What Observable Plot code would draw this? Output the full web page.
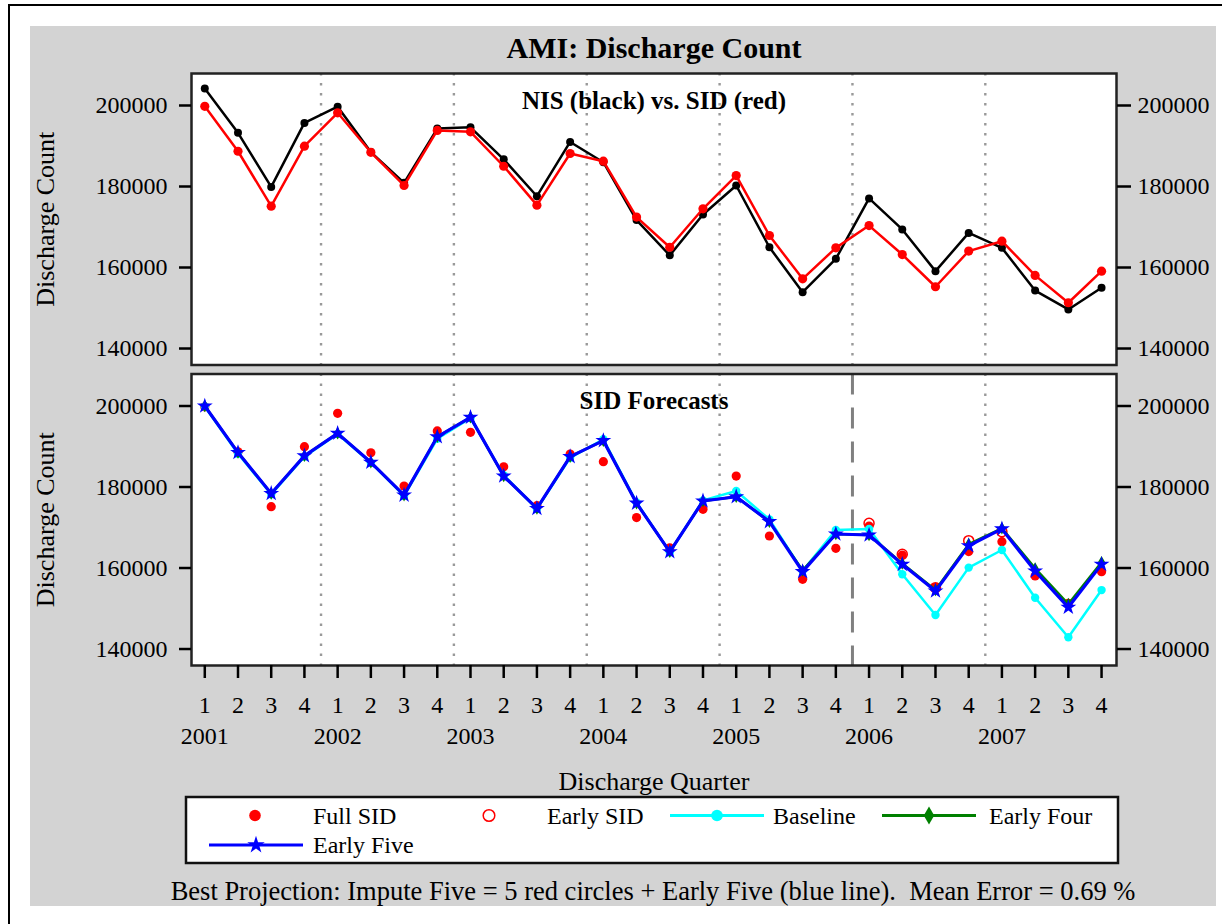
<!DOCTYPE html>
<html><head><meta charset="utf-8">
<script src="https://cdn.jsdelivr.net/npm/d3@7"></script>
<script src="https://cdn.jsdelivr.net/npm/@observablehq/plot@0.6"></script>
<style>
html,body{margin:0;padding:0;background:#fff;overflow:hidden;}
#wrap{position:relative;width:1222px;height:924px;overflow:hidden;font-family:"Liberation Serif","Times New Roman",serif;}
#border{position:absolute;left:8px;top:4px;width:1240px;height:960px;border:2px solid #000;box-sizing:border-box;}
#bg{position:absolute;left:30px;top:26px;width:1186px;height:880px;background:#d3d3d3;}
#chart{position:absolute;left:0;top:0;}
#legend{position:absolute;left:0;top:0;}
</style></head><body>
<div id="wrap"><div id="border"></div><div id="bg"></div><div id="chart"></div><svg id="legend" width="1222" height="924"></svg></div>
<script>
// ---------- data ----------
const quarterLabels = ["1","2","3","4","1","2","3","4","1","2","3","4","1","2","3","4","1","2","3","4","1","2","3","4","1","2","3","4"];
const yearLabels = ["2001","2002","2003","2004","2005","2006","2007"];
const nis       = [204200,193250,179900,195700,199700,188500,180900,194300,194600,186700,177600,191000,186000,171700,163000,173100,180250,165000,153900,162150,177050,169400,159100,168550,164850,154300,149650,155000];
const sidFull   = [199800,188700,175150,189950,198200,188450,180250,193850,193500,185000,175400,188150,186250,172450,165000,174500,182700,167900,157200,164850,170350,163200,155250,164050,166500,158050,151300,159100];
const earlySidQ = [20,21,22,23,24];
const earlySid  = [171050,163400,155150,166750,168950];
const baseline  = [199900,188200,178200,187500,193100,186000,177800,191900,197000,182900,174600,187200,191800,176200,163900,176700,179000,172000,159300,169400,169650,158450,148400,160100,164450,152650,142900,154550];
const earlyFour = [200000,188500,178400,187700,193250,186100,178000,192400,197200,182700,174700,187500,191450,176000,164000,176550,177600,171450,159400,168400,168150,161100,154600,165900,169800,159900,151100,161400];
const earlyFive = [200000,188500,178400,187700,193250,186100,178000,192400,197200,182700,174700,187500,191450,176000,164000,176550,177600,171450,159100,168400,168150,160900,154300,165500,169650,159250,150300,160900];
const yTicks = [140000,160000,180000,200000];
const yearBreaks = [3.5,7.5,11.5,15.5,19.5,23.5];
const forecastStart = 19.5;

// ---------- tables ----------
const idx = d3.range(quarterLabels.length);
const yDomain = [135930, 207900];
const tab = (vals, panel, qs) => vals.map((v, k) => ({i: qs ? qs[k] : k, v, panel}));
const nisT = tab(nis, "top"), sidT = tab(sidFull, "top");
const fullT = tab(sidFull, "bottom"), earlyT = tab(earlySid, "bottom", earlySidQ);
const baseT = tab(baseline, "bottom"), fourT = tab(earlyFour, "bottom"), fiveT = tab(earlyFive, "bottom");
const dotted = [
  ...yearBreaks.map(x => ({x, panel: "top"})),
  ...yearBreaks.filter(x => x !== forecastStart).map(x => ({x, panel: "bottom"}))
];
const dashed = [{x: forecastStart, panel: "bottom"}];
const panels = [{panel: "top", t: "NIS (black) vs. SID (red)"}, {panel: "bottom", t: "SID Forecasts"}];
const yMid = (yDomain[0] + yDomain[1]) / 2;

const chart = Plot.plot({
  width: 1222, height: 924,
  marginLeft: 191, marginRight: 106, marginTop: 73, marginBottom: 259,
  style: {background: "transparent", fontFamily: "'Liberation Serif', 'Times New Roman', serif", fontSize: "24px", color: "black"},
  x: {domain: [-0.4, 27.45]},
  y: {domain: yDomain},
  fy: {domain: ["top", "bottom"], axis: null, paddingInner: 0.03, paddingOuter: 0, round: false},
  marks: [
    Plot.frame({fill: "white", stroke: null}),
    Plot.ruleX(dotted, {x: "x", fy: "panel", stroke: "#999", strokeWidth: 2.4, strokeDasharray: "2.4,7.6"}),
    Plot.ruleX(dashed, {x: "x", fy: "panel", stroke: "#808080", strokeWidth: 3, strokeDasharray: "21,13"}),
    // top panel
    Plot.line(nisT, {x: "i", y: "v", fy: "panel", stroke: "black", strokeWidth: 2.5}),
    Plot.dot(nisT, {x: "i", y: "v", fy: "panel", r: 4, fill: "black"}),
    Plot.line(sidT, {x: "i", y: "v", fy: "panel", stroke: "#ff0000", strokeWidth: 2.5}),
    Plot.dot(sidT, {x: "i", y: "v", fy: "panel", r: 4.6, fill: "#ff0000"}),
    // bottom panel
    Plot.dot(fullT, {x: "i", y: "v", fy: "panel", r: 4.6, fill: "#ff0000"}),
    Plot.dot(earlyT, {x: "i", y: "v", fy: "panel", r: 5, fill: "none", stroke: "#ff0000", strokeWidth: 1.5}),
    Plot.line(baseT, {x: "i", y: "v", fy: "panel", stroke: "#00ffff", strokeWidth: 2.5}),
    Plot.dot(baseT, {x: "i", y: "v", fy: "panel", r: 4.2, fill: "#00ffff"}),
    Plot.line(fourT, {x: "i", y: "v", fy: "panel", stroke: "#008000", strokeWidth: 2.5}),
    Plot.dot(fourT, {x: "i", y: "v", fy: "panel", r: 3.8, symbol: "diamond", fill: "#008000"}),
    Plot.line(fiveT, {x: "i", y: "v", fy: "panel", stroke: "#0000ff", strokeWidth: 3.2}),
    Plot.dot(fiveT, {x: "i", y: "v", fy: "panel", r: 5, symbol: "star", fill: "#0000ff"}),
    Plot.frame({stroke: "#222", strokeWidth: 2.5}),
    // axes
    Plot.axisY({anchor: "left", ticks: yTicks, tickFormat: d => String(d), tickSize: 12, tickPadding: 12, label: null, strokeWidth: 2.5, fontSize: 24}),
    Plot.axisY({anchor: "right", ticks: yTicks, tickFormat: d => String(d), tickSize: 14, tickPadding: 7, label: null, strokeWidth: 2.5, fontSize: 24}),
    Plot.axisX({ticks: idx, tickFormat: i => quarterLabels[i], tickSize: 13, tickPadding: 17, label: null, strokeWidth: 2.5, fontSize: 24}),
    Plot.axisX({ticks: d3.range(0, 28, 4), tickFormat: i => yearLabels[i / 4], tickSize: 0, tickPadding: 61, label: null, fontSize: 24}),
    // texts
    Plot.text([{panel: "top"}], {fy: "panel", frameAnchor: "top", dy: -16, lineAnchor: "bottom", text: () => "AMI: Discharge Count", fontSize: 30, fontWeight: "bold"}),
    Plot.text(panels, {fy: "panel", frameAnchor: "top", dy: 35, lineAnchor: "bottom", text: "t", fontSize: 25, fontWeight: "bold"}),
    Plot.text(panels, {fy: "panel", y: () => yMid, frameAnchor: "left", textAnchor: "middle", dx: -138, rotate: -90, lineAnchor: "bottom", text: () => "Discharge Count", fontSize: 26}),
    Plot.text([{panel: "bottom"}], {fy: "panel", frameAnchor: "bottom", dy: 124, lineAnchor: "bottom", text: () => "Discharge Quarter", fontSize: 26}),
    Plot.text([{panel: "bottom"}], {fy: "panel", frameAnchor: "bottom", dy: 234, dx: -1, lineAnchor: "bottom", text: () => "Best Projection: Impute Five = 5 red circles + Early Five (blue line).\u00a0 Mean Error = 0.69 %", fontSize: 26.5})
  ]
});
document.getElementById("chart").appendChild(chart);

// ---------- legend ----------
const legendItems = [
  {label: "Full SID", kind: "dot", color: "#ff0000", row: 0, mx: 255, tx: 313},
  {label: "Early SID", kind: "open", color: "#ff0000", row: 0, mx: 489, tx: 547},
  {label: "Baseline", kind: "line-dot", color: "#00ffff", row: 0, mx: 717, tx: 773},
  {label: "Early Four", kind: "line-diamond", color: "#008000", row: 0, mx: 929, tx: 989},
  {label: "Early Five", kind: "line-star", color: "#0000ff", row: 1, mx: 256, tx: 313}
];
const lg = d3.select("#legend");
lg.append("rect").attr("x", 186).attr("y", 797).attr("width", 932).attr("height", 66)
  .attr("fill", "white").attr("stroke", "#111").attr("stroke-width", 2.5);
const rowY = [815.5, 845];
const rowBase = [824, 853];
for (const it of legendItems) {
  const cy = rowY[it.row];
  if (it.kind.startsWith("line")) {
    lg.append("line").attr("x1", it.mx - 47).attr("x2", it.mx + 47).attr("y1", cy).attr("y2", cy)
      .attr("stroke", it.color).attr("stroke-width", 3);
  }
  if (it.kind === "dot" || it.kind === "line-dot") {
    lg.append("circle").attr("cx", it.mx).attr("cy", cy).attr("r", 5.8).attr("fill", it.color);
  } else if (it.kind === "open") {
    lg.append("circle").attr("cx", it.mx).attr("cy", cy).attr("r", 5.8).attr("fill", "white").attr("stroke", it.color).attr("stroke-width", 1.5);
  } else if (it.kind === "line-diamond") {
    lg.append("path").attr("d", d3.symbol(d3.symbolDiamond, Math.PI * 5.5 * 5.5)()).attr("transform", `translate(${it.mx},${cy})`).attr("fill", it.color);
  } else if (it.kind === "line-star") {
    lg.append("path").attr("d", d3.symbol(d3.symbolStar, Math.PI * 5.5 * 5.5)()).attr("transform", `translate(${it.mx},${cy})`).attr("fill", it.color);
  }
  lg.append("text").attr("x", it.tx).attr("y", rowBase[it.row]).text(it.label)
    .attr("font-family", "'Liberation Serif', 'Times New Roman', serif").attr("font-size", 24).attr("fill", "black");
}
</script>
</body></html>
